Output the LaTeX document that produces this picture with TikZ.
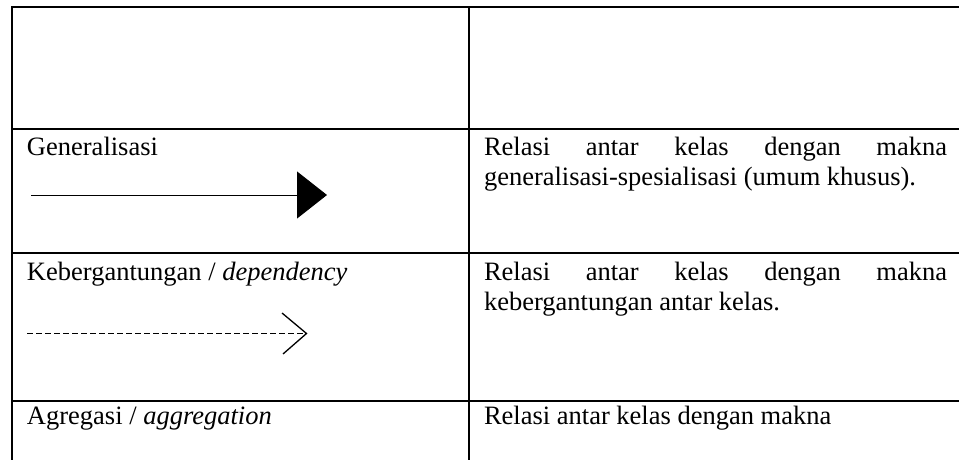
\documentclass[tikz,border=0pt]{standalone}
\usepackage{fontspec}
\setmainfont{Liberation Serif}
\usetikzlibrary{arrows.meta}
\begin{document}
\begin{tikzpicture}[x=1pt,y=-1pt,
  grid/.style={line width=1.5pt,line cap=rect},
  txt/.style={anchor=base west,inner sep=0pt,outer sep=0pt,font=\fontsize{26.5}{30}\selectfont},
  conn/.style={line width=1pt},
  dashconn/.style={line width=1pt,dash pattern=on 6pt off 3pt}]
\useasboundingbox (0,0) rectangle (959,460);
% table grid
\coordinate (tl) at (12,7);
\coordinate (tr) at (959,7);
\coordinate (bl) at (12,460);
\coordinate (tm) at (469,7);
\coordinate (bm) at (469,460);
\coordinate (h1l) at (12,129);  \coordinate (h1r) at (959,129);
\coordinate (h2l) at (12,253);  \coordinate (h2r) at (959,253);
\coordinate (h3l) at (12,401);  \coordinate (h3r) at (959,401);
\draw[grid] (tr) -- (tl) -- (bl);
\draw[grid] (tm) -- (bm);
\draw[grid] (h1l) -- (h1r);
\draw[grid] (h2l) -- (h2r);
\draw[grid] (h3l) -- (h3r);
% row: generalisasi
\node[txt] (genlab) at (27,155) {Generalisasi};
\node[txt] (gend1) at (484,155) {\makebox[463pt][s]{Relasi antar kelas dengan makna}};
\node[txt] (gend2) at (484,185) {generalisasi-spesialisasi (umum khusus).};
\coordinate (gs) at (31,195);
\coordinate (ge) at (327,195);
\draw[conn,-{Triangle[length=30pt,width=47pt]}] (gs) -- (ge);
% row: dependency
\node[txt] (deplab) at (27,280) {Kebergantungan / \textit{dependency}};
\node[txt] (depd1) at (484,280) {\makebox[463pt][s]{Relasi antar kelas dengan makna}};
\node[txt] (depd2) at (484,310) {kebergantungan antar kelas.};
\coordinate (ds) at (27,333.5);
\coordinate (de) at (306.5,333.5);
\coordinate (da1) at (282,313);
\coordinate (da2) at (283,354);
\draw[dashconn] (ds) -- (de);
\draw[line width=1.3pt] (da1) -- (de) -- (da2);
% row: aggregation
\node[txt] (agglab) at (27,424) {Agregasi / \textit{aggregation}};
\node[txt] (aggd1) at (484,424) {Relasi antar kelas dengan makna};
\end{tikzpicture}
\end{document}
